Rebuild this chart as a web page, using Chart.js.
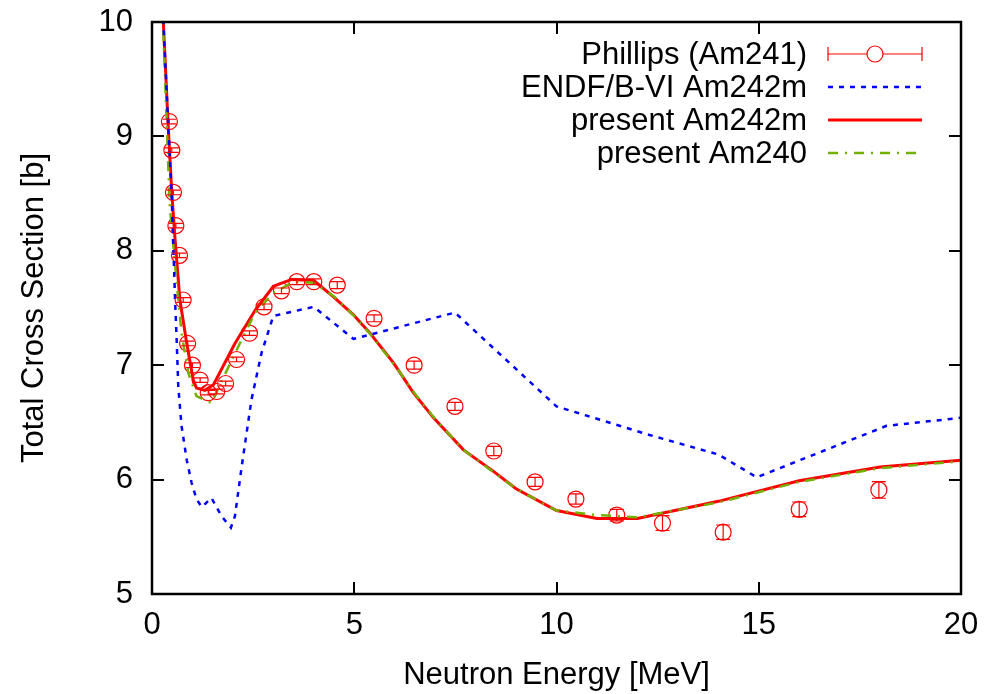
<!DOCTYPE html>
<html>
<head>
<meta charset="utf-8">
<title>Total Cross Section</title>
<script src="https://cdn.jsdelivr.net/npm/chart.js@4/dist/chart.umd.min.js"></script>
<style>
  html, body { margin: 0; padding: 0; background: #ffffff; }
  #appXsChart { display: block; }
</style>
</head>
<body>
<canvas id="appXsChart" width="1003" height="694"></canvas>
<script>
/*********************************************************************************************************
 *                                          CHART DATA
 *********************************************************************************************************/

// Phillips (Am241) measurement
const phillipsEnergy = [0.43, 0.49, 0.53, 0.59, 0.68, 0.77, 0.88, 1.0, 1.19, 1.39, 1.6, 1.82, 2.09, 2.41, 2.77,
  3.2, 3.58, 4.0, 4.58, 5.49, 6.48, 7.49, 8.45, 9.47, 10.48, 11.49, 12.62, 14.12, 16.0, 17.97];
const phillipsXs = [9.13, 8.88, 8.51, 8.22, 7.96, 7.57, 7.19, 7.0, 6.87, 6.76, 6.77, 6.84, 7.05, 7.28, 7.51,
  7.65, 7.73, 7.73, 7.70, 7.41, 7.00, 6.64, 6.25, 5.98, 5.83, 5.69, 5.62, 5.54, 5.74, 5.91];
const phillipsErr = [0.02, 0.02, 0.02, 0.02, 0.02, 0.02, 0.02, 0.02, 0.02, 0.02, 0.02, 0.02, 0.02, 0.02, 0.025,
  0.025, 0.025, 0.025, 0.03, 0.03, 0.035, 0.035, 0.04, 0.04, 0.045, 0.05, 0.065, 0.063, 0.064, 0.073];

// ENDF/B-VI Am242m
const endfEnergy = [0.2, 0.28, 0.49, 0.57, 0.61, 0.65, 0.73, 0.86, 0.98, 1.1, 1.23, 1.47, 1.72, 1.95, 2.05, 2.22,
  2.46, 2.71, 3.0, 3.49, 4.0, 4.98, 7.49, 10.0, 12.3, 14.0, 14.95, 18.16, 20.0];
const endfXs = [10.6, 10.0, 8.45, 7.57, 7.22, 6.81, 6.47, 6.17, 5.97, 5.83, 5.76, 5.84, 5.68, 5.58, 5.68, 6.12,
  6.70, 7.11, 7.43, 7.47, 7.51, 7.23, 7.46, 6.64, 6.39, 6.22, 6.02, 6.47, 6.54];

// present Am242m
const am242mEnergy = [0.2, 0.28, 0.4, 0.49, 0.57, 0.69, 0.86, 1.02, 1.1, 1.31, 1.52, 2.05, 2.55, 3.0, 3.45, 4.0,
  4.48, 4.98, 5.39, 5.97, 6.46, 6.96, 7.7, 8.45, 9.0, 10.0, 11.0, 12.0, 14.0, 16.0, 18.0, 20.0];
const am242mXs = [10.6, 10.0, 9.09, 8.5, 8.1, 7.57, 7.19, 6.87, 6.8, 6.78, 6.83, 7.19, 7.48, 7.69, 7.75, 7.74,
  7.60, 7.44, 7.28, 7.02, 6.76, 6.54, 6.26, 6.07, 5.92, 5.73, 5.66, 5.66, 5.81, 5.99, 6.11, 6.17];

// present Am240
const am240Energy = [0.2, 0.27, 0.44, 0.61, 0.73, 0.9, 1.1, 1.47, 1.72, 2.13, 2.55, 3.0, 3.5, 4.0, 4.5, 5.0,
  5.4, 6.0, 6.5, 7.0, 7.7, 8.5, 9.0, 10.0, 11.0, 12.0, 14.0, 16.0, 18.0, 20.0];
const am240Xs = [10.6, 10.0, 8.39, 7.72, 7.28, 6.93, 6.73, 6.67, 6.86, 7.16, 7.46, 7.63, 7.73, 7.72, 7.60, 7.43,
  7.27, 7.00, 6.75, 6.53, 6.26, 6.05, 5.92, 5.73, 5.69, 5.67, 5.80, 5.98, 6.10, 6.16];

const xTicks = [0, 5, 10, 15, 20];
const yTicks = [5, 6, 7, 8, 9, 10];

const legendLabels = ["Phillips (Am241)", "ENDF/B-VI Am242m", "present Am242m", "present Am240"];

/*********************************************************************************************************
 *                                          SETTINGS
 *********************************************************************************************************/

const FONT_FAMILY = "'Liberation Sans', Arial, Helvetica, sans-serif";
const FONT_SIZE = 31;

const RED = "#ff0000";
const BLUE = "#0000ff";
const GREEN = "#74b000";

function toPoints(xs, ys) {
  const pts = [];
  for (let i = 0; i < xs.length; i++) {
    pts.push({ x: xs[i], y: ys[i] });
  }
  return pts;
}

/*********************************************************************************************************
 *                                          PLUGINS
 *********************************************************************************************************/

// gnuplot style frame with inward ticks on every side
const framePlugin = {
  id: "frame",
  afterDraw(chart) {
    const ctx = chart.ctx;
    const area = chart.chartArea;
    const xs = chart.scales.x;
    const ys = chart.scales.y;
    const tick = 12;
    ctx.save();
    ctx.strokeStyle = "#000000";
    ctx.lineWidth = 2;
    ctx.beginPath();
    xTicks.forEach((v) => {
      const px = Math.round(xs.getPixelForValue(v));
      ctx.moveTo(px, area.bottom);
      ctx.lineTo(px, area.bottom - tick);
      ctx.moveTo(px, area.top);
      ctx.lineTo(px, area.top + tick);
    });
    yTicks.forEach((v) => {
      const py = Math.round(ys.getPixelForValue(v));
      ctx.moveTo(area.left, py);
      ctx.lineTo(area.left + tick, py);
      ctx.moveTo(area.right, py);
      ctx.lineTo(area.right - tick, py);
    });
    ctx.stroke();
    ctx.lineWidth = 2.5;
    ctx.strokeRect(area.left, area.top, area.right - area.left, area.bottom - area.top);
    ctx.restore();
  },
};

// vertical error bars for the measurement
const errorBarPlugin = {
  id: "errorBars",
  afterDatasetsDraw(chart) {
    const ctx = chart.ctx;
    const xs = chart.scales.x;
    const ys = chart.scales.y;
    const cap = 7;
    ctx.save();
    ctx.strokeStyle = RED;
    ctx.lineWidth = 1.2;
    ctx.beginPath();
    for (let i = 0; i < phillipsEnergy.length; i++) {
      const px = xs.getPixelForValue(phillipsEnergy[i]);
      const top = ys.getPixelForValue(phillipsXs[i] + phillipsErr[i]);
      const bot = ys.getPixelForValue(phillipsXs[i] - phillipsErr[i]);
      ctx.moveTo(px, top);
      ctx.lineTo(px, bot);
      ctx.moveTo(px - cap, top);
      ctx.lineTo(px + cap, top);
      ctx.moveTo(px - cap, bot);
      ctx.lineTo(px + cap, bot);
    }
    ctx.stroke();
    ctx.restore();
  },
};

// key in the upper right: text right aligned, sample to its right
const keyPlugin = {
  id: "key",
  afterDraw(chart) {
    const ctx = chart.ctx;
    const textRight = 807;
    const x0 = 828;
    const x1 = 922;
    const rows = [54, 87, 120, 153];
    ctx.save();
    ctx.font = FONT_SIZE + "px " + FONT_FAMILY;
    ctx.fillStyle = "#000000";
    ctx.textAlign = "right";
    ctx.textBaseline = "middle";
    legendLabels.forEach((label, i) => ctx.fillText(label, textRight, rows[i] + 1));

    // Phillips: bar with caps and a circle
    let y = rows[0];
    ctx.strokeStyle = RED;
    ctx.lineWidth = 1.2;
    ctx.beginPath();
    ctx.moveTo(x0, y);
    ctx.lineTo(x1, y);
    ctx.moveTo(x0, y - 7);
    ctx.lineTo(x0, y + 7);
    ctx.moveTo(x1, y - 7);
    ctx.lineTo(x1, y + 7);
    ctx.stroke();
    ctx.fillStyle = "#ffffff";
    ctx.beginPath();
    ctx.arc((x0 + x1) / 2, y, 8, 0, Math.PI * 2);
    ctx.fill();
    ctx.stroke();

    // ENDF
    y = rows[1];
    ctx.strokeStyle = BLUE;
    ctx.lineWidth = 2.5;
    ctx.setLineDash([5, 6]);
    ctx.beginPath();
    ctx.moveTo(x0, y);
    ctx.lineTo(x1, y);
    ctx.stroke();

    // present Am242m
    y = rows[2];
    ctx.strokeStyle = RED;
    ctx.lineWidth = 3;
    ctx.setLineDash([]);
    ctx.beginPath();
    ctx.moveTo(x0, y);
    ctx.lineTo(x1, y);
    ctx.stroke();

    // present Am240
    y = rows[3];
    ctx.strokeStyle = GREEN;
    ctx.lineWidth = 2.5;
    ctx.setLineDash([10, 7, 2, 7]);
    ctx.beginPath();
    ctx.moveTo(x0, y);
    ctx.lineTo(x1, y);
    ctx.stroke();
    ctx.restore();
  },
};

/*********************************************************************************************************
 *                                          CHART CONFIG
 *********************************************************************************************************/

function getDatasets() {
  return [
    {
      label: legendLabels[1],
      data: toPoints(endfEnergy, endfXs),
      borderColor: BLUE,
      borderWidth: 2.5,
      borderDash: [5, 6],
      pointRadius: 0,
      tension: 0,
    },
    {
      label: legendLabels[3],
      data: toPoints(am240Energy, am240Xs),
      borderColor: GREEN,
      borderWidth: 2.5,
      borderDash: [10, 7, 2, 7],
      pointRadius: 0,
      tension: 0,
    },
    {
      label: legendLabels[2],
      data: toPoints(am242mEnergy, am242mXs),
      borderColor: RED,
      borderWidth: 3,
      pointRadius: 0,
      tension: 0,
    },
    {
      label: legendLabels[0],
      data: toPoints(phillipsEnergy, phillipsXs),
      showLine: false,
      pointStyle: "circle",
      pointRadius: 8,
      pointBorderWidth: 1.2,
      pointBorderColor: RED,
      pointBackgroundColor: "rgba(0,0,0,0)",
    },
  ];
}

function getScales() {
  const tickFont = { family: FONT_FAMILY, size: FONT_SIZE };
  return {
    x: {
      type: "linear",
      min: 0,
      max: 20,
      afterFit(scale) {
        scale.height = 100;
        scale.paddingLeft = 0;
        scale.paddingRight = 0;
      },
      afterBuildTicks(scale) { scale.ticks = xTicks.map((v) => ({ value: v })); },
      grid: { display: false, drawTicks: false },
      border: { display: false },
      ticks: { color: "#000000", font: tickFont, padding: 13, maxRotation: 0 },
      title: {
        display: true,
        text: "Neutron Energy [MeV]",
        color: "#000000",
        font: tickFont,
        padding: { top: 0, bottom: 0 },
      },
    },
    y: {
      type: "linear",
      min: 5,
      max: 10,
      afterFit(scale) {
        scale.width = 152;
        scale.paddingTop = 0;
        scale.paddingBottom = 0;
      },
      afterBuildTicks(scale) { scale.ticks = yTicks.map((v) => ({ value: v })); },
      grid: { display: false, drawTicks: false },
      border: { display: false },
      ticks: { color: "#000000", font: tickFont, padding: 19 },
      title: {
        display: true,
        text: "Total Cross Section [b]",
        color: "#000000",
        font: tickFont,
        padding: { top: 16, bottom: 0 },
      },
    },
  };
}

function getChartConfig() {
  return {
    type: "line",
    data: { datasets: getDatasets() },
    options: {
      responsive: false,
      animation: false,
      devicePixelRatio: 1,
      layout: { padding: { left: 0, right: 42, top: 22, bottom: 0 } },
      plugins: {
        legend: { display: false },
        tooltip: { enabled: false },
      },
      scales: getScales(),
    },
    plugins: [errorBarPlugin, framePlugin, keyPlugin],
  };
}

/*********************************************************************************************************
 *                                          RENDER
 *********************************************************************************************************/

const chartElement = document.getElementById("appXsChart");
const xsChart = new Chart(chartElement, getChartConfig());
</script>
</body>
</html>
